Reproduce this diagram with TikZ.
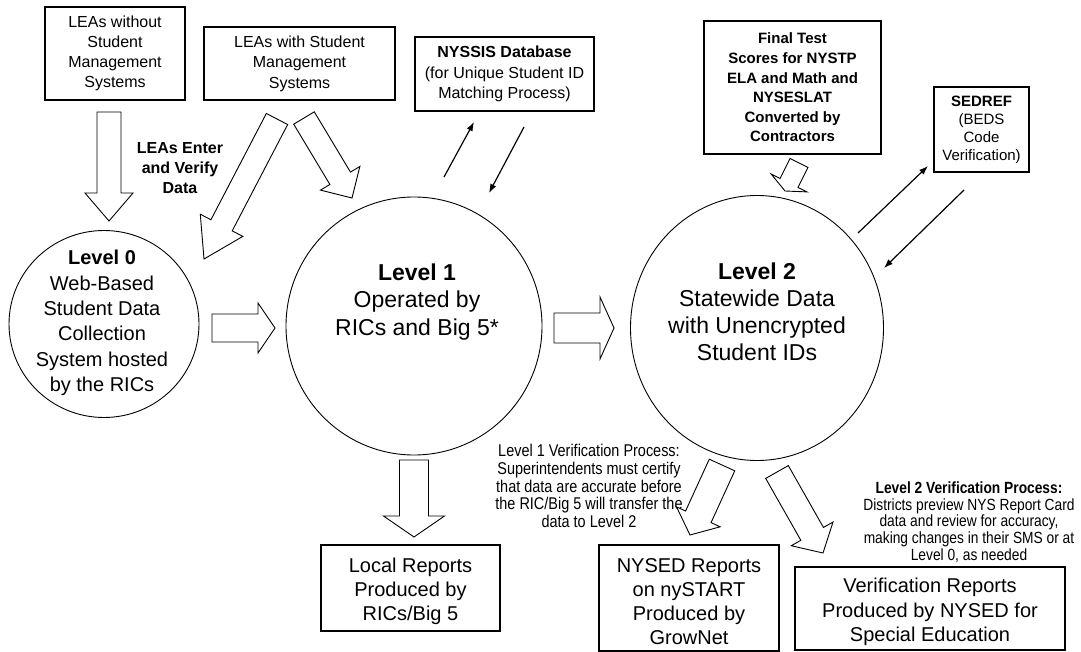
\documentclass[tikz,border=0pt]{standalone}
\usepackage{fontspec}
\setmainfont{Liberation Sans}
\newfontfamily\narrowfont{Liberation Sans}[FakeStretch=0.85]
\usetikzlibrary{calc,arrows.meta,shapes.geometric}

\newcommand{\blockarr}[5]{%
  \coordinate (tmpC) at ($(#2)!#5!(#1)$);
  \draw[barrow] ($(#1)!#3!90:(#2)$) -- ($(tmpC)!#3!-90:(#1)$) -- ($(tmpC)!#4!-90:(#1)$) -- (#2) -- ($(tmpC)!#4!90:(#1)$) -- ($(tmpC)!#3!90:(#1)$) -- ($(#1)!#3!-90:(#2)$) -- cycle;}

\tikzset{
  box/.style={draw, line width=1.1pt, align=center, inner sep=0pt},
  lvl/.style={draw, ellipse, line width=0.9pt, inner sep=0pt},
  txt/.style={align=center, inner sep=0pt},
  barrow/.style={draw, fill=white, line width=0.9pt, line join=miter},
  thin/.style={line width=1.2pt, -{Latex[length=9pt,width=6.5pt]}},
}

\begin{document}
\begin{tikzpicture}[x=1pt,y=-1pt]
\useasboundingbox (0,0) rectangle (1081,652);

% top boxes
\node[box, minimum width=140pt, minimum height=93pt, font=\fontsize{16}{20}\selectfont] (b1) at (115,53.5)
  {LEAs without\\Student\\Management\\Systems};
\node[box, minimum width=191pt, minimum height=73pt, font=\fontsize{16}{20.5}\selectfont] (b2) at (299.5,63.5)
  {LEAs with Student\\Management\\Systems};
\node[box, minimum width=179pt, minimum height=74pt, font=\fontsize{16}{20.5}\selectfont] (nyssis) at (504.5,74)
  {\textbf{NYSSIS Database}\\(for Unique Student ID\\Matching Process)};
\node[box, minimum width=177pt, minimum height=133pt, font=\fontsize{15}{19.6}\selectfont\bfseries] (final) at (792.5,87.5)
  {Final Test\\Scores for NYSTP\\ELA and Math and\\NYSESLAT\\Converted by\\Contractors};
\node[box, minimum width=95pt, minimum height=85pt, font=\fontsize{15}{18}\selectfont] (sedref) at (981.5,129.5)
  {\textbf{SEDREF}\\(BEDS\\Code\\Verification)};

\node[txt, font=\fontsize{16}{20}\selectfont\bfseries] (enter) at (180,168) {LEAs Enter\\and Verify\\Data};

% levels
\node[lvl, minimum width=190pt, minimum height=187pt] (L0) at (104,324) {};
\node[txt, font=\fontsize{20}{25.3}\selectfont] (L0t) at (102,323)
  {\textbf{Level 0}\\Web-Based\\Student Data\\Collection\\System hosted\\by the RICs};
\node[lvl, minimum width=256pt, minimum height=258pt] (L1) at (414,326) {};
\node[txt, font=\fontsize{23}{27.5}\selectfont] (L1t) at (417,302)
  {\textbf{Level 1}\\Operated by\\RICs and Big 5*};
\node[lvl, minimum width=253pt, minimum height=265pt] (L2) at (757,328) {};
\node[txt, font=\fontsize{23}{27}\selectfont] (L2t) at (757,312)
  {\textbf{Level 2}\\Statewide Data\\with Unencrypted\\Student IDs};

% bottom boxes
\node[box, minimum width=179pt, minimum height=86pt] (local) at (410.5,588) {};
\node[txt, font=\fontsize{20}{24}\selectfont] (localt) at (410.5,591)
  {Local Reports\\Produced by\\RICs/Big 5};
\node[box, minimum width=180pt, minimum height=106pt] (nysed) at (689,598) {};
\node[txt, font=\fontsize{20}{24}\selectfont] (nysedt) at (689,601.5)
  {NYSED Reports\\on nySTART\\Produced by\\GrowNet};
\node[box, minimum width=270pt, minimum height=83pt] (verif) at (930,608.5) {};
\node[txt, font=\fontsize{20}{24.5}\selectfont] (verift) at (930,612)
  {Verification Reports\\Produced by NYSED for\\Special Education};

% verification texts
\node[txt, font=\narrowfont\fontsize{17}{17.8}\selectfont] (v1) at (589,486)
  {Level 1 Verification Process:\\Superintendents must certify\\that data are accurate before\\the RIC/Big 5 will transfer the\\data to Level 2};
\node[txt, font=\narrowfont\fontsize{16.2}{16.8}\selectfont] (v2) at (969,522)
  {\textbf{Level 2 Verification Process:}\\Districts preview NYS Report Card\\data and review for accuracy,\\making changes in their SMS or at\\Level 0, as needed};

% block arrow anchor coordinates
\coordinate (a1s) at (109,112);  \coordinate (a1e) at (109,221);
\coordinate (a2s) at (277,119);  \coordinate (a2e) at (204,259);
\coordinate (a3s) at (304,118);  \coordinate (a3e) at (352,198);
\coordinate (a4s) at (212,328);  \coordinate (a4e) at (275,328);
\coordinate (a5s) at (554,328);  \coordinate (a5e) at (614,328);
\coordinate (a6s) at (799,163);  \coordinate (a6e) at (785,191);
\coordinate (a7s) at (414,460);  \coordinate (a7e) at (414,537);
\coordinate (a8s) at (722,465);  \coordinate (a8e) at (690,535);
\coordinate (a9s) at (777,472);  \coordinate (a9e) at (823,553);

\blockarr{a1s}{a1e}{12pt}{24pt}{28pt}
\blockarr{a2s}{a2e}{12pt}{24pt}{38pt}
\blockarr{a3s}{a3e}{12pt}{23pt}{23pt}
\blockarr{a4s}{a4e}{14pt}{25pt}{17pt}
\blockarr{a5s}{a5e}{15pt}{31pt}{14pt}
\blockarr{a6s}{a6e}{10pt}{20pt}{9pt}
\blockarr{a7s}{a7e}{14.5pt}{30.5pt}{21pt}
\blockarr{a8s}{a8e}{14pt}{24pt}{20pt}
\blockarr{a9s}{a9e}{13pt}{24pt}{22pt}

% thin arrows
\coordinate (n1s) at (444,177); \coordinate (n1e) at (474,122);
\coordinate (n2s) at (524,127); \coordinate (n2e) at (489,193);
\coordinate (s1s) at (858,233); \coordinate (s1e) at (928,166);
\coordinate (s2s) at (964,190); \coordinate (s2e) at (884,268);
\draw[thin] (n1s) -- (n1e);
\draw[thin] (n2s) -- (n2e);
\draw[thin] (s1s) -- (s1e);
\draw[thin] (s2s) -- (s2e);
\end{tikzpicture}
\end{document}
